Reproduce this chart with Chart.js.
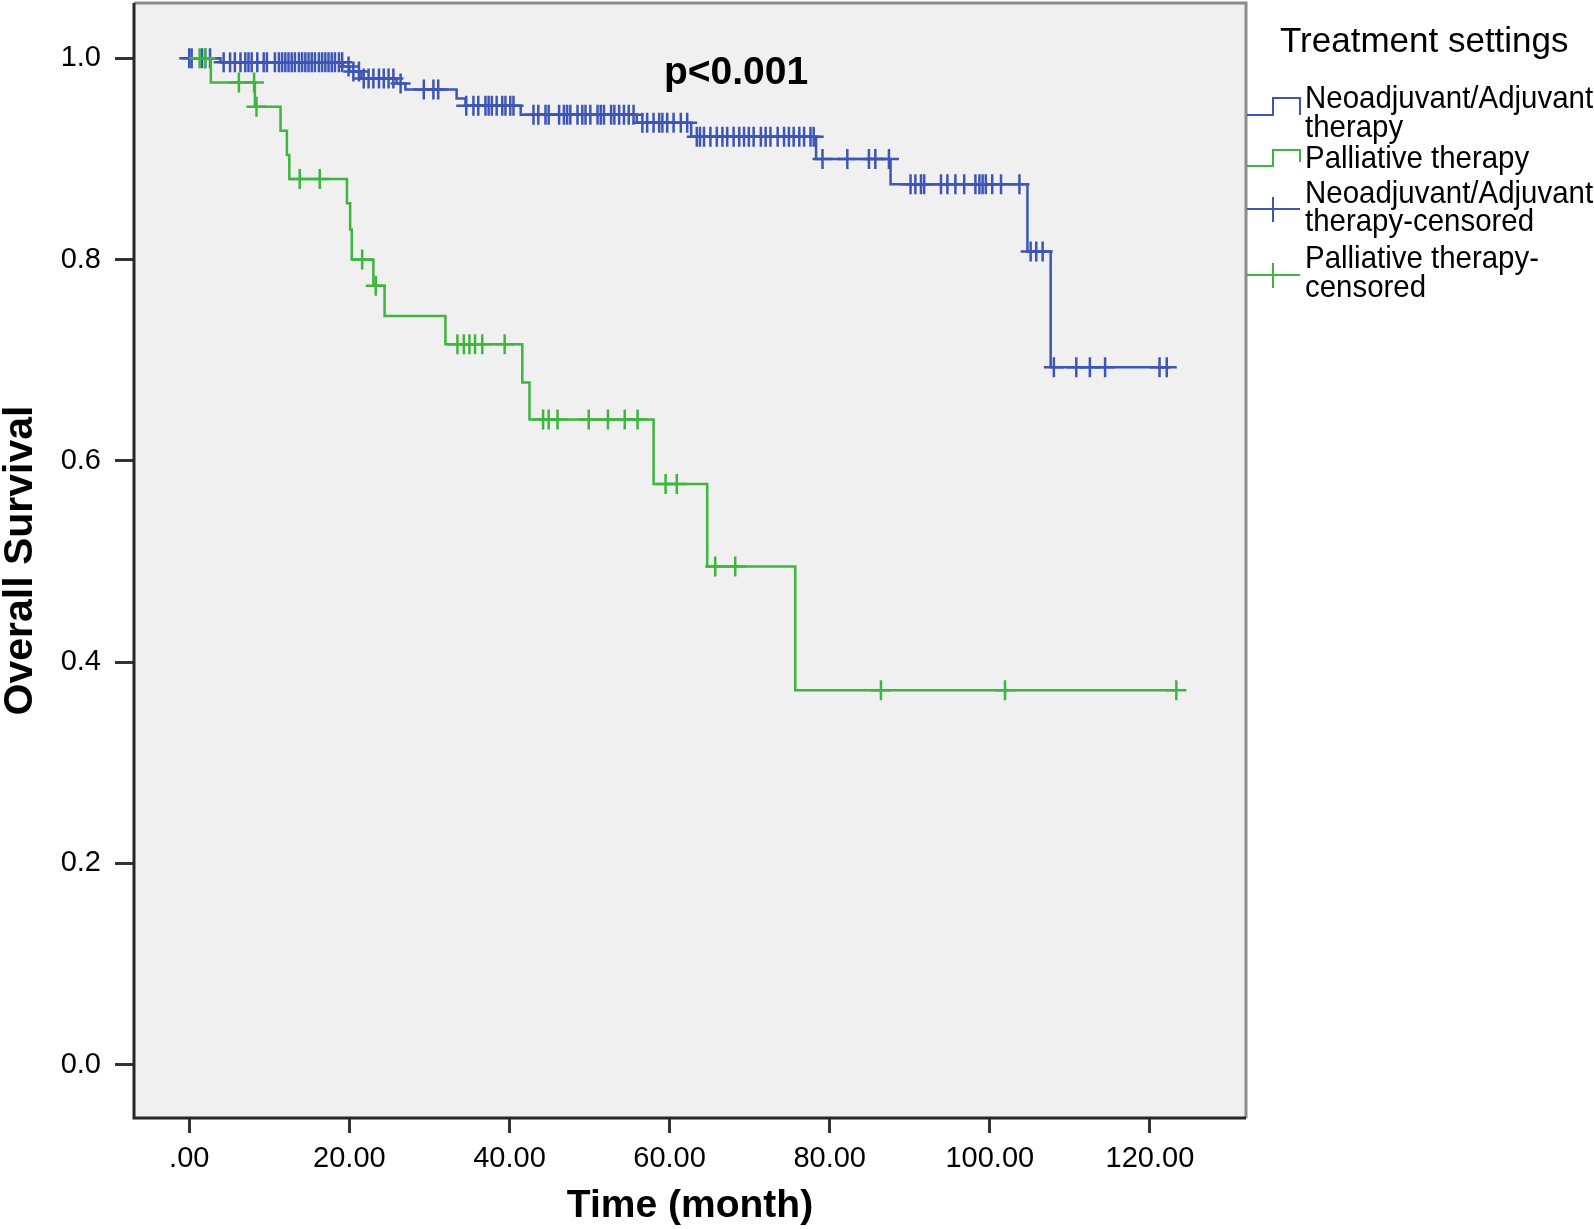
<!DOCTYPE html>
<html>
<head>
<meta charset="utf-8">
<title>Overall Survival by treatment settings</title>
<script src="https://cdn.jsdelivr.net/npm/chart.js@4.4.1/dist/chart.umd.min.js"></script>
<style>
  html, body { margin: 0; padding: 0; background: #fff; }
  #wrap { width: 1594px; height: 1229px; }
</style>
</head>
<body>
<div id="wrap"><canvas id="km" width="1594" height="1229"></canvas></div>
<script>
// axis ticks
const xTicks = [0, 20, 40, 60, 80, 100, 120];
const xTickLabels = ['.00', '20.00', '40.00', '60.00', '80.00', '100.00', '120.00'];
const yTicks = [0, 0.2, 0.4, 0.6, 0.8, 1.0];
const yTickLabels = ['0.0', '0.2', '0.4', '0.6', '0.8', '1.0'];

// Neoadjuvant/Adjuvant therapy: step times (month) and survival after each step
const blueTimes = [0, 3.9, 19.2, 20.0, 21.5, 25.9, 27.0, 33.4, 34.5, 41.4, 55.9, 62.7, 78.3, 87.6, 104.7, 107.6, 122.6];
const blueSurv = [1.0, 0.996, 0.992, 0.987, 0.980, 0.975, 0.969, 0.960, 0.953, 0.944, 0.936, 0.922, 0.900, 0.875, 0.808, 0.693, 0.693];
const blueCensored = [
  0.0, 0.3, 1.6, 2.0, 2.6, 4.3, 5.1, 5.7, 6.4, 7.0, 7.4, 7.8, 8.5, 9.3, 9.7, 10.7, 11.2, 11.6, 12.0, 12.4,
  12.8, 13.2, 13.7, 14.1, 14.5, 14.9, 15.3, 15.7, 16.2, 16.6, 17.0, 17.4, 17.8, 18.2, 18.7, 19.1,
  19.9, 20.5, 21.2, 21.8, 22.4, 23.0, 23.7, 24.3, 24.9, 25.5, 26.4,
  29.3, 30.5, 31.1,
  34.6, 35.5, 36.1, 37.0, 37.4, 37.8, 38.4, 39.1, 39.5, 40.1, 40.5,
  43.0, 43.6, 44.5, 44.9, 46.2, 46.8, 47.2, 47.6, 48.5, 49.1, 49.5, 50.1, 51.0, 51.4, 51.8, 52.7, 53.1, 53.7, 54.3, 54.9, 55.5,
  56.6, 57.2, 58.0, 58.7, 59.1, 59.7, 60.5, 61.4, 62.2,
  63.4, 63.8, 64.3, 65.1, 65.9, 66.6, 67.2, 68.0, 68.7, 69.3, 69.9, 70.5, 71.4, 72.0, 72.6, 73.5, 74.3, 74.9, 75.5, 76.2, 76.8, 77.6, 78.0,
  79.1, 82.2, 84.9, 85.7, 87.4,
  90.1, 90.7, 91.4, 91.8, 93.9, 94.7, 95.7, 96.8, 98.2, 98.7, 99.1, 99.5, 100.3, 101.4, 103.7,
  105.1, 105.8, 106.6,
  108.0, 110.8, 112.5, 114.4, 121.2, 122.1
];

// Palliative therapy
const greenTimes = [0, 2.7, 8.2, 11.4, 12.2, 12.5, 19.7, 20.1, 20.3, 23.0, 24.4, 32.0, 41.6, 42.5, 58.0, 64.7, 75.7, 123.3];
const greenSurv = [1.0, 0.976, 0.952, 0.928, 0.904, 0.880, 0.856, 0.830, 0.800, 0.774, 0.744, 0.716, 0.678, 0.641, 0.577, 0.495, 0.372, 0.372];
const greenCensored = [1.3, 2.0, 6.2, 8.1, 8.4, 13.8, 16.3, 21.6, 23.3, 33.5, 34.3, 35.0, 35.7, 36.6, 39.4,
  44.2, 44.9, 46.0, 49.9, 52.3, 54.4, 56.0, 59.5, 60.9, 65.7, 68.2, 86.4, 101.9, 123.3];

const legendTitle = 'Treatment settings';
const legendLabels = [
  ['Neoadjuvant/Adjuvant', 'therapy'],
  ['Palliative therapy'],
  ['Neoadjuvant/Adjuvant', 'therapy-censored'],
  ['Palliative therapy-', 'censored']
];
const pText = 'p<0.001';

const BLUE = '#3d55b6';
const GREEN = '#3cb63c';
const FONT = 'Liberation Sans, Arial, sans-serif';

function stepPoints(times, surv) {
    return times.map((t, i) => ({ x: t, y: surv[i] }));
}

// survival level in force at time t
function survAt(times, surv, t) {
    let s = surv[0];
    for (let i = 0; i < times.length; i++) {
        if (times[i] <= t) s = surv[i];
    }
    return s;
}

function censorPoints(list, times, surv) {
    return list.map(t => ({ x: t, y: survAt(times, surv, t) }));
}

const kmDecor = {
    id: 'kmDecor',
    beforeDraw(chart) {
        const { ctx, chartArea: a } = chart;
        ctx.save();
        ctx.fillStyle = '#fff';
        ctx.fillRect(0, 0, chart.width, chart.height);
        ctx.fillStyle = '#f0f0f0';
        ctx.fillRect(a.left, a.top, a.right - a.left, a.bottom - a.top);
        ctx.restore();
    },
    afterDraw(chart) {
        const { ctx, chartArea: a } = chart;
        ctx.save();
        // frame
        ctx.lineWidth = 3;
        ctx.strokeStyle = '#8c8c8c';
        ctx.beginPath();
        ctx.moveTo(a.left, a.top);
        ctx.lineTo(a.right, a.top);
        ctx.lineTo(a.right, a.bottom);
        ctx.stroke();
        ctx.strokeStyle = '#262626';
        ctx.beginPath();
        ctx.moveTo(a.left, a.top);
        ctx.lineTo(a.left, a.bottom);
        ctx.lineTo(a.right, a.bottom);
        ctx.stroke();

        // p value
        const xs = chart.scales.x, ys = chart.scales.y;
        ctx.fillStyle = '#000';
        ctx.font = 'bold 39px ' + FONT;
        ctx.textBaseline = 'alphabetic';
        ctx.fillText(pText, xs.getPixelForValue(59.3), ys.getPixelForValue(0.975));

        // legend
        ctx.font = '35px ' + FONT;
        ctx.fillText(legendTitle, 1280, 52);

        ctx.lineWidth = 2;
        ctx.strokeStyle = BLUE;
        ctx.beginPath();
        ctx.moveTo(1247, 115); ctx.lineTo(1273, 115); ctx.lineTo(1273, 98);
        ctx.lineTo(1300, 98); ctx.lineTo(1300, 115);
        ctx.stroke();
        ctx.strokeStyle = GREEN;
        ctx.beginPath();
        ctx.moveTo(1247, 166); ctx.lineTo(1273, 166); ctx.lineTo(1273, 150);
        ctx.lineTo(1300, 150); ctx.lineTo(1300, 162);
        ctx.stroke();
        ctx.strokeStyle = BLUE;
        ctx.beginPath();
        ctx.moveTo(1247, 209); ctx.lineTo(1300, 209);
        ctx.moveTo(1273, 197); ctx.lineTo(1273, 222);
        ctx.stroke();
        ctx.strokeStyle = GREEN;
        ctx.beginPath();
        ctx.moveTo(1247, 275); ctx.lineTo(1300, 275);
        ctx.moveTo(1273, 263); ctx.lineTo(1273, 288);
        ctx.stroke();

        const baselines = [[108, 137], [168], [203, 231], [268, 297]];
        ctx.font = '32px ' + FONT;
        legendLabels.forEach((lines, i) => {
            lines.forEach((txt, j) => {
                ctx.save();
                ctx.translate(1305, baselines[i][j]);
                ctx.scale(0.92, 1);
                ctx.fillText(txt, 0, 0);
                ctx.restore();
            });
        });
        ctx.restore();
    }
};

const ctx = document.getElementById('km').getContext('2d');

new Chart(ctx, {
    type: 'scatter',
    data: {
        datasets: [
            {
                label: legendLabels[1].join(' '),
                data: stepPoints(greenTimes, greenSurv),
                showLine: true,
                stepped: 'before',
                borderColor: GREEN,
                borderWidth: 2.5,
                pointRadius: 0
            },
            {
                label: 'Palliative therapy-censored',
                data: censorPoints(greenCensored, greenTimes, greenSurv),
                pointStyle: 'cross',
                pointRadius: 10,
                borderColor: GREEN,
                pointBorderWidth: 2.5
            },
            {
                label: legendLabels[0].join(' '),
                data: stepPoints(blueTimes, blueSurv),
                showLine: true,
                stepped: 'before',
                borderColor: BLUE,
                borderWidth: 2.5,
                pointRadius: 0
            },
            {
                label: 'Neoadjuvant/Adjuvant therapy-censored',
                data: censorPoints(blueCensored, blueTimes, blueSurv),
                pointStyle: 'cross',
                pointRadius: 10,
                borderColor: BLUE,
                pointBorderWidth: 2.5
            }
        ]
    },
    options: {
        responsive: false,
        animation: false,
        devicePixelRatio: 1,
        events: [],
        layout: {
            autoPadding: false,
            padding: { left: 0, top: 3, right: 348, bottom: 0 }
        },
        plugins: {
            legend: { display: false },
            tooltip: { enabled: false }
        },
        scales: {
            x: {
                type: 'linear',
                min: -6.9,
                max: 132,
                afterBuildTicks: axis => { axis.ticks = xTicks.map(v => ({ value: v })); },
                afterFit: axis => {
                    axis.height = 111;
                    axis.paddingLeft = 0;
                    axis.paddingRight = 0;
                },
                ticks: {
                    callback: (v, i) => xTickLabels[i],
                    color: '#000',
                    font: { family: FONT, size: 29 },
                    padding: 9,
                    maxRotation: 0,
                    autoSkip: false
                },
                grid: {
                    drawOnChartArea: false,
                    drawTicks: true,
                    tickLength: 15,
                    color: '#333',
                    lineWidth: 3
                },
                border: { display: false },
                title: {
                    display: true,
                    text: 'Time (month)',
                    color: '#000',
                    font: { family: FONT, size: 39, weight: 'bold', lineHeight: 1 },
                    padding: { top: 0, bottom: 3 }
                }
            },
            y: {
                type: 'linear',
                min: -0.053,
                max: 1.055,
                afterBuildTicks: axis => { axis.ticks = yTicks.map(v => ({ value: v })); },
                afterFit: axis => {
                    axis.width = 134;
                    axis.paddingTop = 0;
                    axis.paddingBottom = 0;
                },
                ticks: {
                    callback: (v, i) => yTickLabels[i],
                    color: '#000',
                    font: { family: FONT, size: 29 },
                    padding: 14
                },
                grid: {
                    drawOnChartArea: false,
                    drawTicks: true,
                    tickLength: 19,
                    color: '#333',
                    lineWidth: 3
                },
                border: { display: false },
                title: {
                    display: true,
                    text: 'Overall Survival',
                    color: '#000',
                    font: { family: FONT, size: 41, weight: 'bold', lineHeight: 1 },
                    padding: { top: 0, bottom: 0 }
                }
            }
        }
    },
    plugins: [kmDecor]
});
</script>
</body>
</html>
